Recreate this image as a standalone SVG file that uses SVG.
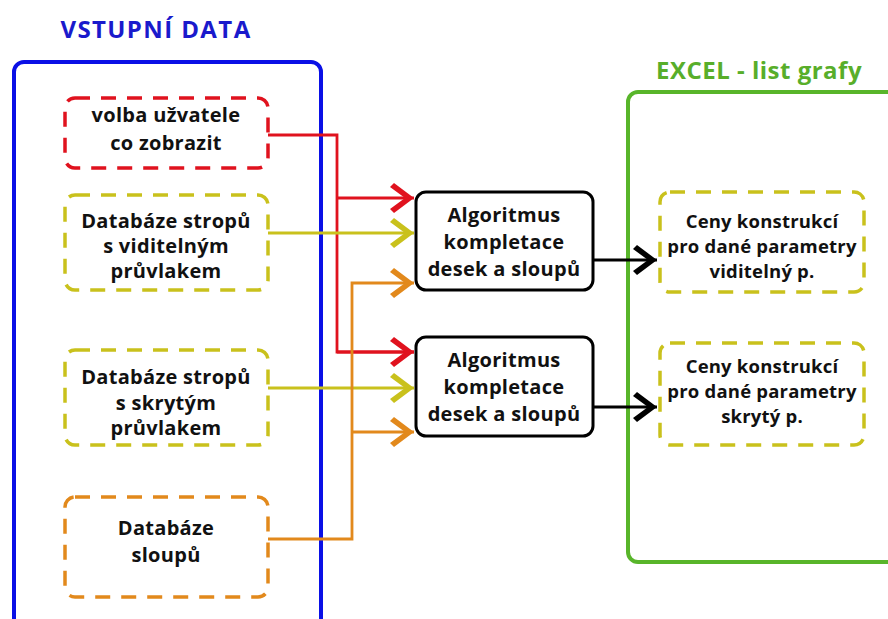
<svg xmlns="http://www.w3.org/2000/svg" width="888" height="619" viewBox="0 0 888 619">
<defs>
<style>
text{font-family:"Open Sans","Noto Sans","DejaVu Sans",sans-serif;font-weight:bold;text-anchor:middle;fill:#111}
.t{font-size:20px;letter-spacing:0.3px}
.r{font-size:18.5px;letter-spacing:0.2px}
.title{font-size:24px}
.dash{fill:#fff;stroke-width:3.5;stroke-dasharray:15 11;stroke-linecap:butt}
.con{fill:none;stroke-width:2.8}
</style>
<marker id="mR" viewBox="-26 -18 30 36" refX="0" refY="0" markerWidth="30" markerHeight="36" markerUnits="userSpaceOnUse" orient="auto"><path d="M0,0 L-20,-15 L-24,-11 L-9,0 L-24,11 L-20,15 Z" fill="#e0121e"/></marker>
<marker id="mY" viewBox="-26 -18 30 36" refX="0" refY="0" markerWidth="30" markerHeight="36" markerUnits="userSpaceOnUse" orient="auto"><path d="M0,0 L-20,-15 L-24,-11 L-9,0 L-24,11 L-20,15 Z" fill="#c9c11c"/></marker>
<marker id="mO" viewBox="-26 -18 30 36" refX="0" refY="0" markerWidth="30" markerHeight="36" markerUnits="userSpaceOnUse" orient="auto"><path d="M0,0 L-20,-15 L-24,-11 L-9,0 L-24,11 L-20,15 Z" fill="#e2891c"/></marker>
<marker id="mK" viewBox="-26 -18 30 36" refX="0" refY="0" markerWidth="30" markerHeight="36" markerUnits="userSpaceOnUse" orient="auto"><path d="M0,0 L-20,-15 L-24,-11 L-9,0 L-24,11 L-20,15 Z" fill="#000"/></marker>
</defs>
<rect width="888" height="619" fill="#fff"/>

<g id="vstupni-data">
<text class="title" x="156" y="38" style="fill:#1a1acc;letter-spacing:1.4px">VSTUPNÍ DATA</text>
<rect x="14" y="62" width="307" height="580" rx="10" fill="none" stroke="#0a10e6" stroke-width="4"/>
</g>
<g id="excel">
<text class="title" x="759" y="79" style="fill:#58ae2a;letter-spacing:0.5px">EXCEL - list grafy</text>
<rect x="628" y="92" width="290" height="470" rx="10" fill="none" stroke="#58b52a" stroke-width="4"/>
</g>

<g id="connectors">
<path class="con" stroke="#e0121e" d="M268,135 H337 V352 H414"/>
<path class="con" stroke="#e0121e" d="M337,198 H414" marker-end="url(#mR)"/>
<path class="con" stroke="#e0121e" d="M337,352 H414" marker-end="url(#mR)"/>
<path class="con" stroke="#c9c11c" d="M268,233 H414" marker-end="url(#mY)"/>
<path class="con" stroke="#c9c11c" d="M268,388 H414" marker-end="url(#mY)"/>
<path class="con" stroke="#e2891c" d="M268,539 H352 V283 H414" marker-end="url(#mO)"/>
<path class="con" stroke="#e2891c" d="M352,432 H414" marker-end="url(#mO)"/>
<path class="con" stroke="#000" d="M593,260 H657" marker-end="url(#mK)"/>
<path class="con" stroke="#000" d="M593,407 H657" marker-end="url(#mK)"/>
</g>

<g id="volba">
<rect class="dash" x="65" y="98" width="203" height="70" rx="10" stroke="#e0121e"/>
<text class="t" x="166" y="122">volba užvatele</text>
<text class="t" x="166" y="150">co zobrazit</text>
</g>
<g id="db-viditelny">
<rect class="dash" x="65" y="195" width="203" height="95" rx="10" stroke="#c9c11c"/>
<text class="t" x="166" y="228">Databáze stropů</text>
<text class="t" x="166" y="253">s viditelným</text>
<text class="t" x="166" y="278">průvlakem</text>
</g>
<g id="db-skryty">
<rect class="dash" x="65" y="350" width="203" height="95" rx="10" stroke="#c9c11c"/>
<text class="t" x="166" y="384">Databáze stropů</text>
<text class="t" x="166" y="410">s skrytým</text>
<text class="t" x="166" y="435">průvlakem</text>
</g>
<g id="db-sloupu">
<rect class="dash" x="65" y="497" width="203" height="100" rx="10" stroke="#e2891c"/>
<text class="t" x="166" y="535">Databáze</text>
<text class="t" x="166" y="562">sloupů</text>
</g>

<g id="algoritmus-1">
<rect x="416" y="192" width="177" height="98" rx="10" fill="#fff" stroke="#000" stroke-width="3"/>
<text class="t" x="504" y="222">Algoritmus</text>
<text class="t" x="504" y="249">kompletace</text>
<text class="t" x="504" y="276">desek a sloupů</text>
</g>
<g id="algoritmus-2">
<rect x="416" y="337" width="177" height="99" rx="10" fill="#fff" stroke="#000" stroke-width="3"/>
<text class="t" x="504" y="367">Algoritmus</text>
<text class="t" x="504" y="394">kompletace</text>
<text class="t" x="504" y="421">desek a sloupů</text>
</g>

<g id="ceny-viditelny">
<rect class="dash" x="660" y="192" width="204" height="100" rx="10" stroke="#c9c11c"/>
<text class="r" x="762" y="228">Ceny konstrukcí</text>
<text class="r" x="762" y="253">pro dané parametry</text>
<text class="r" x="762" y="278">viditelný p.</text>
</g>
<g id="ceny-skryty">
<rect class="dash" x="660" y="343" width="204" height="102" rx="10" stroke="#c9c11c"/>
<text class="r" x="762" y="373">Ceny konstrukcí</text>
<text class="r" x="762" y="398">pro dané parametry</text>
<text class="r" x="762" y="423">skrytý p.</text>
</g>
</svg>
